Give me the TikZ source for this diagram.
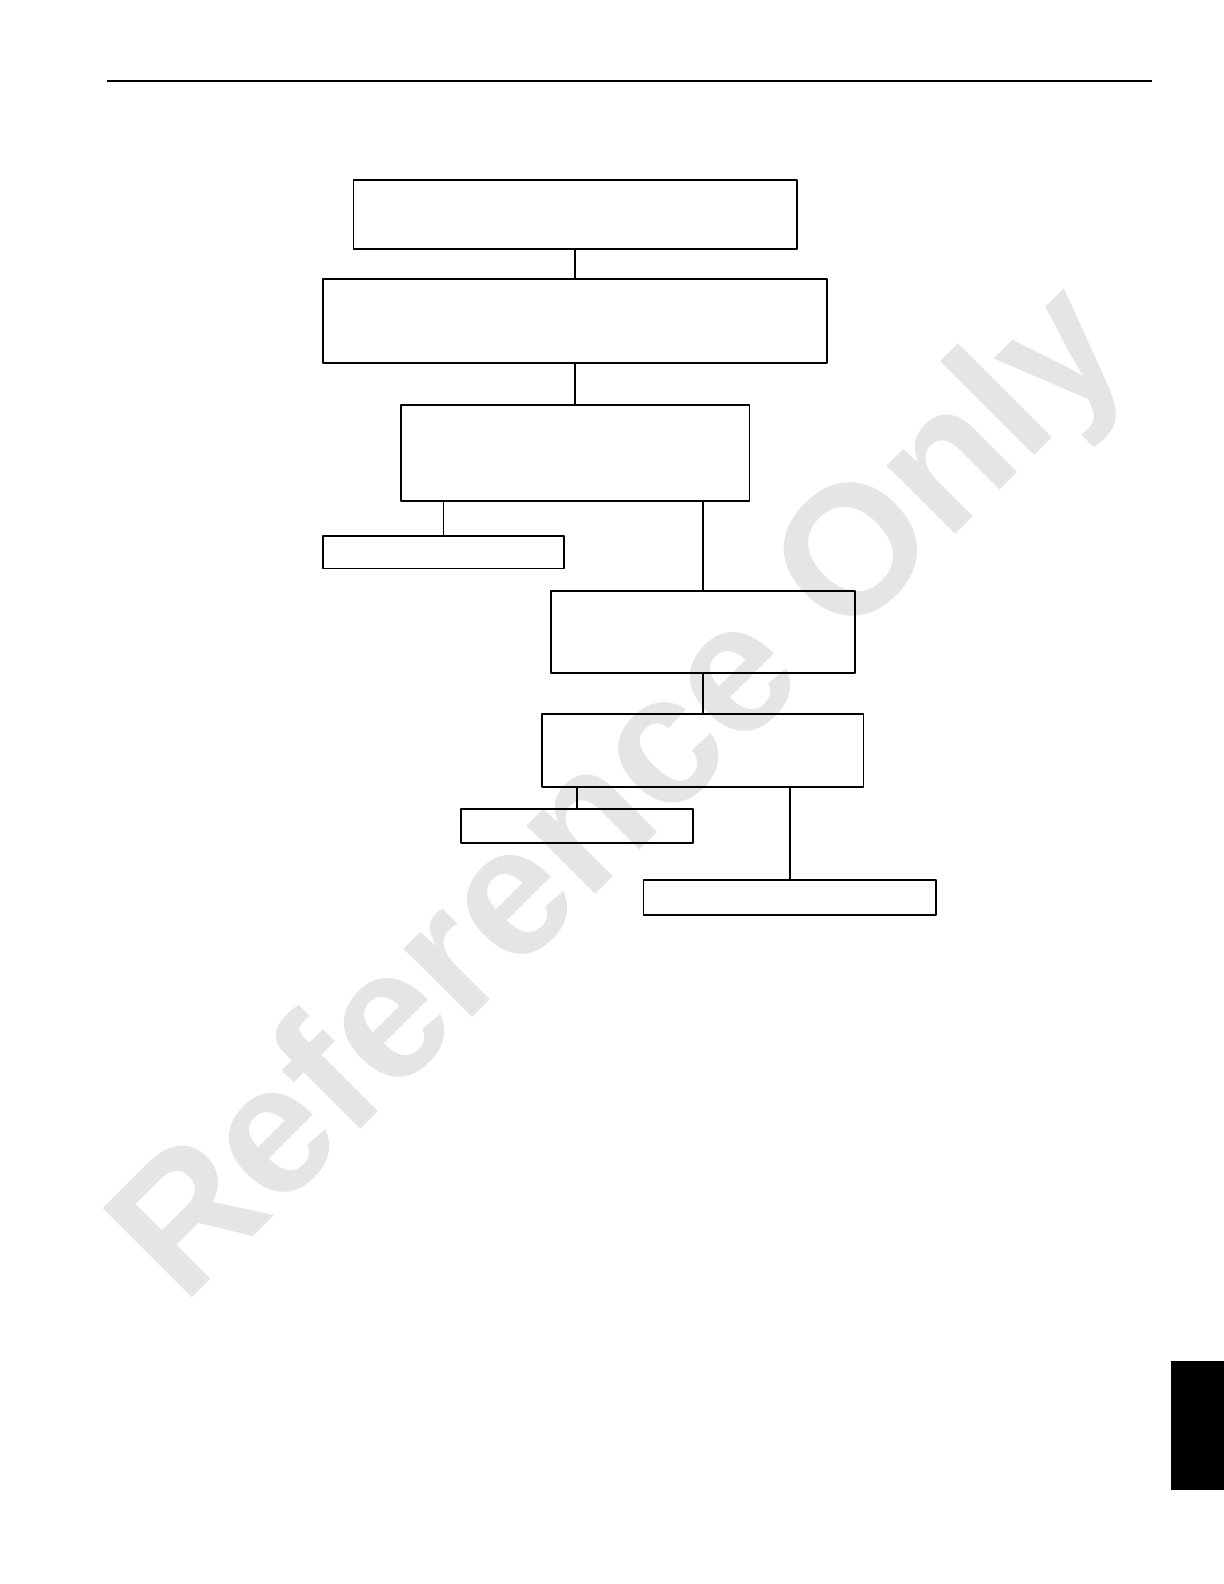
\documentclass[tikz,border=0pt]{standalone}
\usepackage{fontspec}
\setmainfont{Liberation Sans}
\usepackage{tikz}
\usetikzlibrary{positioning}

\begin{document}
\begin{tikzpicture}[line join=bevel,
  box/.style={draw,line width=0.9bp,inner sep=0pt},
  link/.style={line width=0.8bp},
  heavylink/.style={line width=1.3bp},
  stamp/.style={text=black!10,font=\bfseries\fontsize{92}{92}\selectfont,inner sep=0pt,rotate=45}]
\useasboundingbox (0bp,0bp) rectangle (612bp,792bp);
%% watermark
\node (mark) at (312.5bp,393bp) [stamp] {Reference Only};
%% header rule and tab
\coordinate (hl) at (53.5bp,751.6bp);
\coordinate (hr) at (576.2bp,751.6bp);
\draw [line width=1.1bp] (hl) -- (hr);
\node (tab) at (598.75bp,79.25bp) [fill=black,inner sep=0pt,minimum width=26.5bp,minimum height=64.5bp] {};
%%
\node (boxA) at (287.6bp,684.7bp) [box,minimum width=221.7bp,minimum height=34.8bp] {};
  \node (boxB) at (287.6bp,631.6bp) [box,minimum width=252bp,minimum height=41.9bp] {};
  \node (boxC) at (287.6bp,565.5bp) [box,minimum width=174.2bp,minimum height=48bp] {};
  \node (boxD) at (221.7bp,515.8bp) [box,minimum width=120.2bp,minimum height=16.1bp] {};
  \node (boxE) at (351.4bp,476.1bp) [box,minimum width=152bp,minimum height=40.9bp] {};
  \node (boxF) at (351.4bp,416.8bp) [box,minimum width=160.6bp,minimum height=36.4bp] {};
  \node (boxG) at (288.4bp,378.9bp) [box,minimum width=116.1bp,minimum height=17.2bp] {};
  \node (boxH) at (394.9bp,343.3bp) [box,minimum width=146.4bp,minimum height=17.6bp] {};
  \draw [link] (boxA) -- (boxB);
  \draw [link] (boxB) -- (boxC);
  \draw [link] (boxC.south -| boxD.north) -- (boxD);
  \draw [heavylink] (boxC.south -| boxE.north) -- (boxE);
  \draw [heavylink] (boxE) -- (boxF);
  \draw [heavylink] (boxF.south -| boxG.north) -- (boxG);
  \draw [link] (boxF.south -| boxH.north) -- (boxH);
%
\end{tikzpicture}
\end{document}
